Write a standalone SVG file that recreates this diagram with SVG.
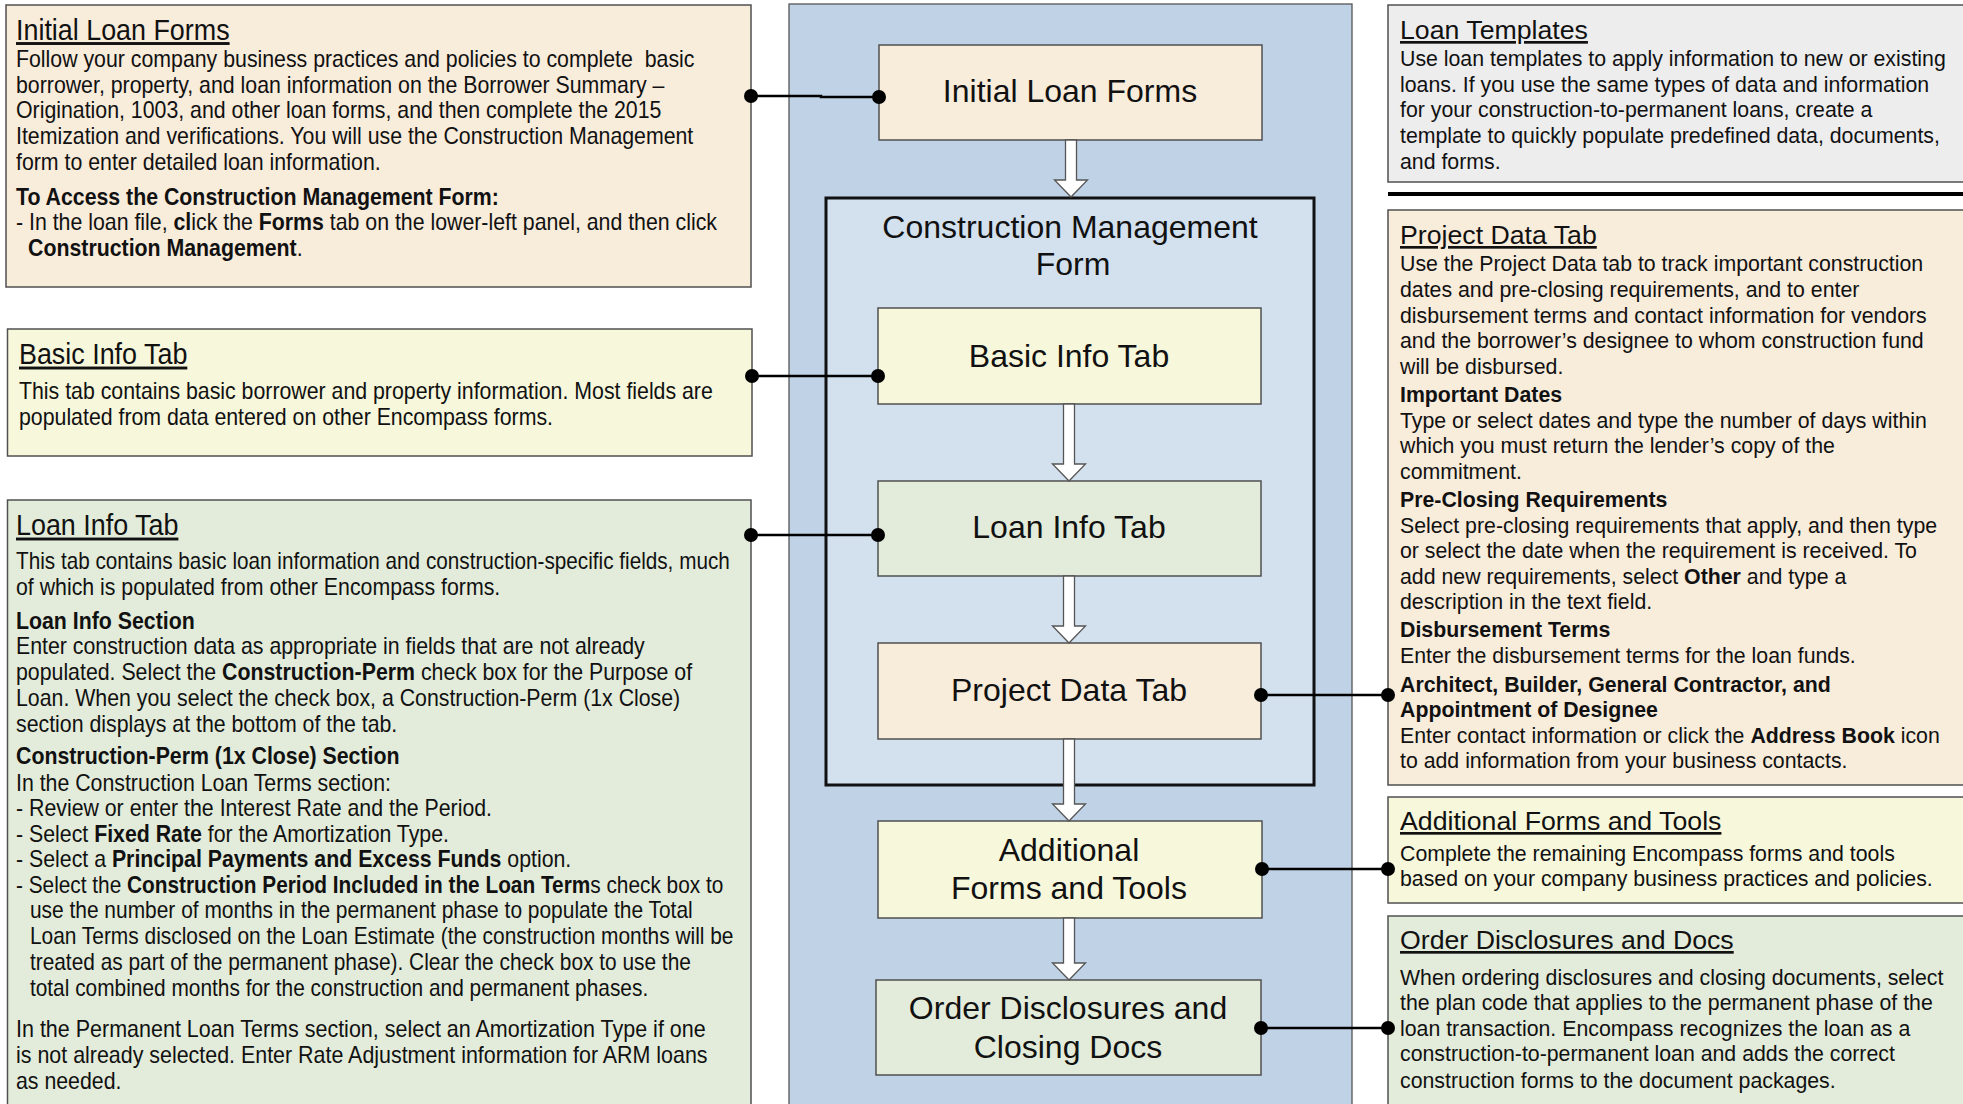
<svg xmlns="http://www.w3.org/2000/svg" width="1963" height="1104" viewBox="0 0 1963 1104">
<style>
.box{stroke:#505050;stroke-width:1.5}
.peach{fill:#F8ECDB}
.yel{fill:#F7F7DC}
.grn{fill:#E3ECDA}
.gray{fill:#EDEDED}
.nar{font-family:"Liberation Sans",Arial,sans-serif;font-size:23px;fill:#111}
.nt{font-size:29px;text-decoration:underline}
.sans{font-family:"Liberation Sans",Arial,sans-serif;font-size:21.3px;fill:#111}
.st{font-size:26.7px;text-decoration:underline}
.b{font-weight:bold}
.ntext{font-family:"Liberation Sans",Arial,sans-serif;font-size:32px;text-anchor:middle;fill:#111}
.wire{stroke:#000;stroke-width:2.5;fill:none}
.dot{fill:#000}
.arrow{fill:#fff;stroke:#555;stroke-width:1.3}
</style>

<g id="panel">
<rect x="789" y="4" width="563" height="1110" fill="#BFD2E6" stroke="#555" stroke-width="1.3"/>
</g>

<g id="cmf">
<rect x="826" y="198" width="488" height="587" fill="#D3E0EE" stroke="#111" stroke-width="3"/>
<text class="ntext" x="1070" y="238">Construction Management</text>
<text class="ntext" x="1073" y="275">Form</text>
</g>

<g id="node-initial">
<rect class="box peach" x="879" y="45" width="383" height="95"/>
<text class="ntext" x="1070" y="102">Initial Loan Forms</text>
</g>
<g id="node-basic">
<rect class="box yel" x="878" y="308" width="383" height="96"/>
<text class="ntext" x="1069" y="367">Basic Info Tab</text>
</g>
<g id="node-loan">
<rect class="box grn" x="878" y="481" width="383" height="95"/>
<text class="ntext" x="1069" y="538">Loan Info Tab</text>
</g>
<g id="node-project">
<rect class="box peach" x="878" y="643" width="383" height="96"/>
<text class="ntext" x="1069" y="701">Project Data Tab</text>
</g>
<g id="node-additional">
<rect class="box yel" x="878" y="821" width="384" height="97"/>
<text class="ntext" x="1069" y="861">Additional</text>
<text class="ntext" x="1069" y="899">Forms and Tools</text>
</g>
<g id="node-order">
<rect class="box grn" x="876" y="980" width="385" height="95"/>
<text class="ntext" x="1068" y="1019">Order Disclosures and</text>
<text class="ntext" x="1068" y="1058">Closing Docs</text>
</g>

<g id="note-initial">
<rect class="box peach" x="6" y="5" width="745" height="282"/>
<g transform="translate(16,0) scale(0.927,1)">
<text class="nar nt" x="0" y="40">Initial Loan Forms</text>
<text class="nar" x="0" y="67.5">Follow your company business practices and policies to complete &#160;basic</text>
<text class="nar" x="0" y="93.5">borrower, property, and loan information on the Borrower Summary –</text>
<text class="nar" x="0" y="118.5">Origination, 1003, and other loan forms, and then complete the 2015</text>
<text class="nar" x="0" y="144.5">Itemization and verifications. You will use the Construction Management</text>
<text class="nar" x="0" y="170.5">form to enter detailed loan information.</text>
<text class="nar b" x="0" y="205.5">To Access the Construction Management Form:</text>
<text class="nar" x="0" y="230.5">- In the loan file, <tspan class="b">cl</tspan>ick the <tspan class="b">Forms</tspan> tab on the lower-left panel, and then click</text>
<text class="nar" x="13" y="256.5"><tspan class="b">Construction Management</tspan>.</text>
</g>
</g>

<g id="note-basic">
<rect class="box yel" x="7.5" y="329" width="744.5" height="127"/>
<g transform="translate(19,0) scale(0.927,1)">
<text class="nar nt" x="0" y="364.5">Basic Info Tab</text>
<text class="nar" x="0" y="399.5">This tab contains basic borrower and property information. Most fields are</text>
<text class="nar" x="0" y="425.5">populated from data entered on other Encompass forms.</text>
</g>
</g>

<g id="note-loan">
<rect class="box grn" x="7.5" y="500" width="743.5" height="620"/>
<g transform="translate(16,0) scale(0.927,1)">
<text class="nar nt" x="0" y="535.5">Loan Info Tab</text>
<text class="nar" x="0" y="569.5" textLength="770" lengthAdjust="spacingAndGlyphs">This tab contains basic loan information and construction-specific fields, much</text>
<text class="nar" x="0" y="595.5">of which is populated from other Encompass forms.</text>
<text class="nar b" x="0" y="629.5">Loan Info Section</text>
<text class="nar" x="0" y="654.5">Enter construction data as appropriate in fields that are not already</text>
<text class="nar" x="0" y="680.5">populated. Select the <tspan class="b">Construction-Perm</tspan> check box for the Purpose of</text>
<text class="nar" x="0" y="706.5">Loan. When you select the check box, a Construction-Perm (1x Close)</text>
<text class="nar" x="0" y="732.5">section displays at the bottom of the tab.</text>
<text class="nar b" x="0" y="764.5">Construction-Perm (1x Close) Section</text>
<text class="nar" x="0" y="791.5">In the Construction Loan Terms section:</text>
<text class="nar" x="0" y="816.5">- Review or enter the Interest Rate and the Period.</text>
<text class="nar" x="0" y="842.5">- Select <tspan class="b">Fixed Rate</tspan> for the Amortization Type.</text>
<text class="nar" x="0" y="867.5">- Select a <tspan class="b">Principal Payments and Excess Funds</tspan> option.</text>
<text class="nar" x="0" y="893.5" textLength="763" lengthAdjust="spacingAndGlyphs">- Select the <tspan class="b">Construction Period Included in the Loan Term</tspan>s check box to</text>
<text class="nar" x="15" y="918.5" textLength="715" lengthAdjust="spacingAndGlyphs">use the number of months in the permanent phase to populate the Total</text>
<text class="nar" x="15" y="944.5" textLength="759" lengthAdjust="spacingAndGlyphs">Loan Terms disclosed on the Loan Estimate (the construction months will be</text>
<text class="nar" x="15" y="970.5" textLength="713" lengthAdjust="spacingAndGlyphs">treated as part of the permanent phase). Clear the check box to use the</text>
<text class="nar" x="15" y="996.5" textLength="667" lengthAdjust="spacingAndGlyphs">total combined months for the construction and permanent phases.</text>
<text class="nar" x="0" y="1037.5" textLength="744" lengthAdjust="spacingAndGlyphs">In the Permanent Loan Terms section, select an Amortization Type if one</text>
<text class="nar" x="0" y="1062.5" textLength="746" lengthAdjust="spacingAndGlyphs">is not already selected. Enter Rate Adjustment information for ARM loans</text>
<text class="nar" x="0" y="1089.5">as needed.</text>
</g>
</g>

<g id="note-templates">
<rect class="box gray" x="1388" y="5" width="590" height="177"/>
<text class="sans st" x="1400" y="39">Loan Templates</text>
<text class="sans" x="1400" y="66">Use loan templates to apply information to new or existing</text>
<text class="sans" x="1400" y="92">loans. If you use the same types of data and information</text>
<text class="sans" x="1400" y="117">for your construction-to-permanent loans, create a</text>
<text class="sans" x="1400" y="143">template to quickly populate predefined data, documents,</text>
<text class="sans" x="1400" y="169">and forms.</text>
</g>

<g id="separator">
<line x1="1388" y1="194" x2="1963" y2="194" stroke="#000" stroke-width="4"/>
</g>

<g id="note-project">
<rect class="box peach" x="1388" y="210" width="590" height="575"/>
<text class="sans st" x="1400" y="244">Project Data Tab</text>
<text class="sans" x="1400" y="271">Use the Project Data tab to track important construction</text>
<text class="sans" x="1400" y="297">dates and pre-closing requirements, and to enter</text>
<text class="sans" x="1400" y="323">disbursement terms and contact information for vendors</text>
<text class="sans" x="1400" y="348">and the borrower’s designee to whom construction fund</text>
<text class="sans" x="1400" y="374">will be disbursed.</text>
<text class="sans b" x="1400" y="402">Important Dates</text>
<text class="sans" x="1400" y="428">Type or select dates and type the number of days within</text>
<text class="sans" x="1400" y="453">which you must return the lender’s copy of the</text>
<text class="sans" x="1400" y="479">commitment.</text>
<text class="sans b" x="1400" y="507">Pre-Closing Requirements</text>
<text class="sans" x="1400" y="533">Select pre-closing requirements that apply, and then type</text>
<text class="sans" x="1400" y="558">or select the date when the requirement is received. To</text>
<text class="sans" x="1400" y="584">add new requirements, select <tspan class="b">Other</tspan> and type a</text>
<text class="sans" x="1400" y="609">description in the text field.</text>
<text class="sans b" x="1400" y="637">Disbursement Terms</text>
<text class="sans" x="1400" y="663">Enter the disbursement terms for the loan funds.</text>
<text class="sans b" x="1400" y="692">Architect, Builder, General Contractor, and</text>
<text class="sans b" x="1400" y="717">Appointment of Designee</text>
<text class="sans" x="1400" y="743">Enter contact information or click the <tspan class="b">Address Book</tspan> icon</text>
<text class="sans" x="1400" y="768">to add information from your business contacts.</text>
</g>

<g id="note-additional">
<rect class="box yel" x="1388" y="797" width="590" height="106"/>
<text class="sans st" x="1400" y="830">Additional Forms and Tools</text>
<text class="sans" x="1400" y="861">Complete the remaining Encompass forms and tools</text>
<text class="sans" x="1400" y="886">based on your company business practices and policies.</text>
</g>

<g id="note-order">
<rect class="box grn" x="1388" y="916" width="590" height="200"/>
<text class="sans st" x="1400" y="949">Order Disclosures and Docs</text>
<text class="sans" x="1400" y="985">When ordering disclosures and closing documents, select</text>
<text class="sans" x="1400" y="1010">the plan code that applies to the permanent phase of the</text>
<text class="sans" x="1400" y="1036">loan transaction. Encompass recognizes the loan as a</text>
<text class="sans" x="1400" y="1061">construction-to-permanent loan and adds the correct</text>
<text class="sans" x="1400" y="1088">construction forms to the document packages.</text>
</g>

<g id="connectors">
<path class="arrow" d="M1065.5,140 L1076.5,140 L1076.5,180 L1087.5,180 L1071,197 L1054.5,180 L1065.5,180 Z"/>
<path class="arrow" d="M1063.5,404 L1074.5,404 L1074.5,464 L1085.5,464 L1069,481 L1052.5,464 L1063.5,464 Z"/>
<path class="arrow" d="M1063.5,576 L1074.5,576 L1074.5,626 L1085.5,626 L1069,643 L1052.5,626 L1063.5,626 Z"/>
<path class="arrow" d="M1063.5,739 L1074.5,739 L1074.5,804 L1085.5,804 L1069,821 L1052.5,804 L1063.5,804 Z"/>
<path class="arrow" d="M1063.5,918 L1074.5,918 L1074.5,963 L1085.5,963 L1069,980 L1052.5,963 L1063.5,963 Z"/>
<polyline class="wire" points="751,96 821,96 821,97 879,97"/>
<circle class="dot" cx="751" cy="96" r="7"/>
<circle class="dot" cx="879" cy="97" r="7"/>
<line class="wire" x1="752" y1="376" x2="878" y2="376"/>
<circle class="dot" cx="752" cy="376" r="7"/>
<circle class="dot" cx="878" cy="376" r="7"/>
<line class="wire" x1="751" y1="535" x2="878" y2="535"/>
<circle class="dot" cx="751" cy="535" r="7"/>
<circle class="dot" cx="878" cy="535" r="7"/>
<line class="wire" x1="1261" y1="695" x2="1388" y2="695"/>
<circle class="dot" cx="1261" cy="695" r="7"/>
<circle class="dot" cx="1388" cy="695" r="7"/>
<line class="wire" x1="1262" y1="869" x2="1388" y2="869"/>
<circle class="dot" cx="1262" cy="869" r="7"/>
<circle class="dot" cx="1388" cy="869" r="7"/>
<line class="wire" x1="1261" y1="1028" x2="1388" y2="1028"/>
<circle class="dot" cx="1261" cy="1028" r="7"/>
<circle class="dot" cx="1388" cy="1028" r="7"/>
</g>
</svg>
